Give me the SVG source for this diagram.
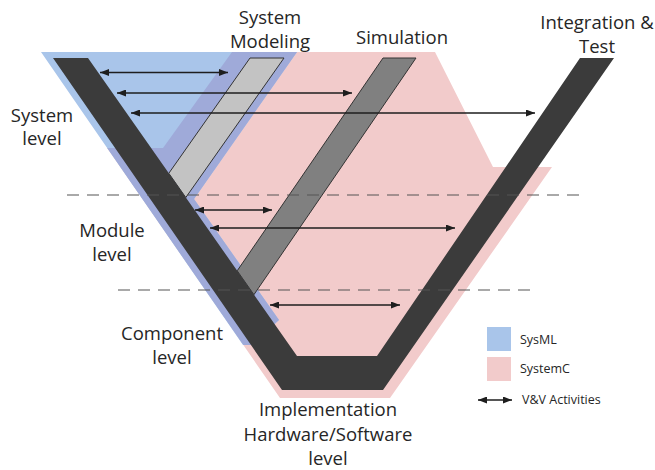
<svg xmlns="http://www.w3.org/2000/svg" width="655" height="470" viewBox="0 0 655 470">
  <defs>
    <style>
      .lbl { font-family: "Open Sans", "Liberation Sans", sans-serif; font-size: 18.5px; fill: #262626; text-anchor: middle; }
      .leg { font-family: "Open Sans", "Liberation Sans", sans-serif; font-size: 12.5px; fill: #262626; }
      .dash { stroke: #555; stroke-width: 1.2; stroke-dasharray: 12 8; fill: none; }
      .vv { stroke: #1e1e1e; stroke-width: 1.3; fill: none; marker-start: url(#head); marker-end: url(#head); }
      .bar { stroke: #333; stroke-width: 1; }
    </style>
    <marker id="head" viewBox="0 0 9 7" refX="9" refY="3.5" markerWidth="9" markerHeight="7" markerUnits="userSpaceOnUse" orient="auto-start-reverse">
      <path d="M0,0 L9,3.5 L0,7 z" fill="#1e1e1e"/>
    </marker>
    <polygon id="sysml-area" points="41,52 297,52 194,199 279,320 268,330 251,345 243,345"/>
    <clipPath id="systemc-clip">
      <polygon points="232,52 435,52 493,167 552,167 390,398 280,398 107,148 163,148"/>
    </clipPath>
  </defs>

  <!-- tool coverage regions -->
  <g id="systemc-region">
    <polygon points="232,52 435,52 493,167 552,167 390,398 280,398 107,148 163,148" fill="#f2cbcb"/>
  </g>
  <g id="sysml-region">
    <use href="#sysml-area" fill="#a9c5ea"/>
    <use href="#sysml-area" fill="#9faad9" clip-path="url(#systemc-clip)"/>
  </g>

  <!-- modeling bars -->
  <g id="system-modeling-bar">
    <polygon class="bar" points="250,58 284,58 185.8,197.5 168.8,173.3" fill="#c3c3c3"/>
  </g>
  <g id="simulation-bar">
    <polygon class="bar" points="383,58 416,58 253.9,294.7 237.2,270.8" fill="#808080"/>
  </g>

  <!-- V shape -->
  <g id="v-model">
    <polygon points="53,58 88,58 297,356 377,356 580,58 614,58 383,390 282,390" fill="#3b3b3b"/>
  </g>

  <!-- level separators -->
  <g id="level-separators">
    <line class="dash" x1="67" y1="195" x2="585" y2="195"/>
    <line class="dash" x1="118" y1="290" x2="532" y2="290"/>
  </g>

  <!-- V&V activities -->
  <g id="connectors">
    <line class="vv" x1="100" y1="72.5" x2="228" y2="72.5"/>
    <line class="vv" x1="117" y1="93" x2="352" y2="93"/>
    <line class="vv" x1="131" y1="113" x2="535" y2="113"/>
    <line class="vv" x1="195" y1="210" x2="272" y2="210"/>
    <line class="vv" x1="210" y1="228" x2="455" y2="228"/>
    <line class="vv" x1="270" y1="305" x2="400" y2="305"/>
  </g>

  <!-- labels -->
  <g id="label-system-modeling">
    <text class="lbl" x="270" y="23.5">System</text>
    <text class="lbl" x="270" y="47.5">Modeling</text>
  </g>
  <g id="label-simulation">
    <text class="lbl" x="402" y="44">Simulation</text>
  </g>
  <g id="label-integration">
    <text class="lbl" x="597" y="28.5">Integration &amp;</text>
    <text class="lbl" x="597" y="52.5">Test</text>
  </g>
  <g id="label-system-level">
    <text class="lbl" x="42" y="121.5">System</text>
    <text class="lbl" x="42" y="145">level</text>
  </g>
  <g id="label-module-level">
    <text class="lbl" x="112" y="236.5">Module</text>
    <text class="lbl" x="112" y="261">level</text>
  </g>
  <g id="label-component-level">
    <text class="lbl" x="172" y="339.5">Component</text>
    <text class="lbl" x="172" y="363.5">level</text>
  </g>
  <g id="label-implementation">
    <text class="lbl" x="328" y="416">Implementation</text>
    <text class="lbl" x="328" y="441">Hardware/Software</text>
    <text class="lbl" x="328" y="465">level</text>
  </g>

  <!-- legend -->
  <g id="legend">
    <rect x="487" y="327" width="24" height="24" fill="#a9c5ea"/>
    <text class="leg" x="520" y="344">SysML</text>
    <rect x="487" y="357" width="24" height="24" fill="#f2cbcb"/>
    <text class="leg" x="520" y="373">SystemC</text>
    <line x1="478" y1="400" x2="512" y2="400" stroke="#1e1e1e" stroke-width="1.3" marker-start="url(#head)" marker-end="url(#head)"/>
    <text class="leg" x="522" y="404">V&amp;V Activities</text>
  </g>
</svg>
